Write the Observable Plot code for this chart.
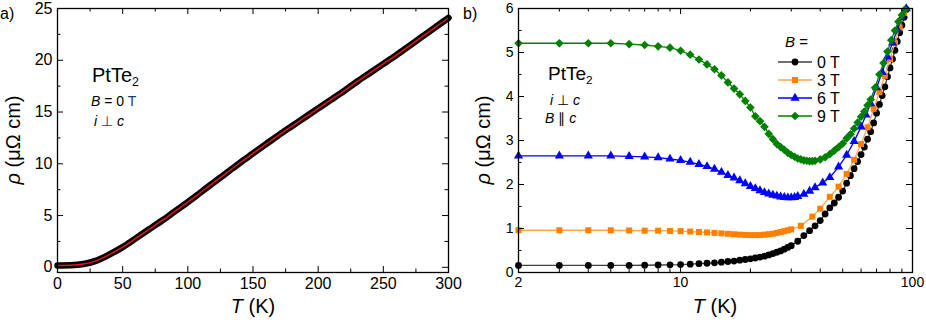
<!DOCTYPE html>
<html><head><meta charset="utf-8">
<script src="https://cdn.jsdelivr.net/npm/d3@7"></script>
<script src="https://cdn.jsdelivr.net/npm/@observablehq/plot@0.6"></script>
<style>
body{margin:0;background:#fff;}
#wrap{position:relative;width:926px;height:324px;overflow:hidden;background:#fff;}
#wrap > svg{position:absolute;top:0;}
</style></head><body><div id="wrap"></div>
<script>
// ---------- Panel a data: rho(T) at B = 0 T ----------
const tA   = [0,10,20,30,40,50,60,70,80,90,100,110,120,130,140,150,160,170,180,190,200,210,220,230,240,250,260,270,280,290,300];
const rhoA = [0.18,0.2,0.32,0.65,1.25,1.95,2.8,3.65,4.5,5.4,6.3,7.25,8.2,9.15,10.1,11.0,11.9,12.8,13.65,14.5,15.35,16.2,17.05,17.95,18.8,19.65,20.5,21.4,22.3,23.2,24.1];
const xTicksA = [0,50,100,150,200,250,300];
const xMinorA = [25,75,125,175,225,275];
const yTicksA = [0,5,10,15,20,25];
const yMinorA = [2.5,7.5,12.5,17.5,22.5];

// ---------- Panel b data ----------
const t0   = [2,3,4,5,6,7,8,9,10,11,12,13,14,15,16,17,18,19,20,21,22,23,24,25,26,27,28,29,30,32,34,36,38,40,42,44,46,48,50,52,54,56,58,60,62,64,66,68,70,72,74,76,78,80,82,84,86,88,90,92,94];
const rho0 = [0.16,0.16,0.16,0.16,0.16,0.165,0.17,0.175,0.18,0.19,0.2,0.21,0.22,0.235,0.25,0.26,0.28,0.295,0.31,0.33,0.35,0.37,0.4,0.43,0.46,0.49,0.53,0.57,0.61,0.71,0.84,0.95,1.06,1.18,1.33,1.47,1.58,1.71,1.85,2.03,2.2,2.36,2.52,2.68,2.85,3.03,3.2,3.4,3.62,3.82,4.02,4.22,4.45,4.65,4.85,5.05,5.25,5.45,5.62,5.8,5.98];
const t3   = [2,3,4,5,6,7,8,9,10,11,12,13,14,15,16,17,18,19,20,21,22,23,24,25,26,27,28,29,30,33,37,40,44,48,52,56,60,64,68,72,76,80,84,88,92];
const rho3 = [0.96,0.96,0.96,0.96,0.955,0.95,0.95,0.945,0.94,0.93,0.92,0.91,0.9,0.89,0.88,0.87,0.86,0.855,0.85,0.85,0.85,0.86,0.87,0.88,0.9,0.92,0.94,0.96,0.98,1.06,1.27,1.45,1.72,1.95,2.24,2.56,2.92,3.3,3.72,4.1,4.47,4.85,5.22,5.57,5.9];
const t6   = [2,3,4,5,6,7,8,9,10,11,12,13,14,15,16,17,18,19,20,21,22,23,24,25,26,27,28,29,30,31,32,34,36,38,41,44,48,52,56,60,63,66,70,74,78,82,86,90,94];
const rho6 = [2.65,2.65,2.65,2.65,2.64,2.63,2.61,2.58,2.55,2.51,2.46,2.41,2.35,2.28,2.21,2.15,2.09,2.02,1.96,1.91,1.86,1.82,1.79,1.76,1.74,1.72,1.71,1.7,1.7,1.71,1.73,1.78,1.85,1.93,2.04,2.16,2.4,2.67,2.98,3.31,3.58,3.84,4.2,4.55,4.9,5.22,5.52,5.8,6.0];
const t9   = [2,3,4,5,6,7,8,9,10,11,12,13,14,15,16,17,18,19,20,21,22,23,24,25,26,27,28,29,30,31,32,33,34,35,36,37,38,40,42,44,46,48,50,52,54,56,58,60,62,64,66,69,72,75,78,81,84,87,90,93];
const rho9 = [5.21,5.21,5.21,5.21,5.19,5.17,5.14,5.11,5.04,4.95,4.84,4.73,4.62,4.48,4.32,4.18,4.05,3.9,3.75,3.55,3.44,3.31,3.15,3.03,2.92,2.85,2.79,2.72,2.67,2.63,2.59,2.57,2.55,2.54,2.53,2.53,2.54,2.57,2.62,2.69,2.77,2.85,2.93,3.05,3.14,3.27,3.41,3.54,3.66,3.8,3.93,4.2,4.5,4.76,5.02,5.28,5.5,5.7,5.85,5.98];
const seriesNames = ["0 T","3 T","6 T","9 T"];
const dotColors   = ["#000000","#ff8000","#0000ff","#008000"];
const lineColors  = ["#404040","#ffa64d","#0000ff","#008000"];
const symbols     = ["circle","square","triangle","diamond2"];
const xTicksB = [2,10,100];
const xMinorB = [3,4,5,6,7,8,9,20,30,40,50,60,70,80,90];
const yTicksB = [0,1,2,3,4,5,6];
const yMinorB = [0.5,1.5,2.5,3.5,4.5,5.5];

const FONT = "'Liberation Sans', Arial, sans-serif";
const H = 324;

function frameTicks(innerW, innerH, xMaj, xMin, yMaj, yMin) {
  const L = 6, l = 3.5, o = {stroke: "#000", strokeWidth: 1};
  return [
    Plot.tickX(xMaj, {x: d => d, insetTop: innerH - L, ...o}),
    Plot.tickX(xMaj, {x: d => d, insetBottom: innerH - L, ...o}),
    Plot.tickX(xMin, {x: d => d, insetTop: innerH - l, ...o}),
    Plot.tickX(xMin, {x: d => d, insetBottom: innerH - l, ...o}),
    Plot.tickY(yMaj, {y: d => d, insetRight: innerW - L, ...o}),
    Plot.tickY(yMaj, {y: d => d, insetLeft: innerW - L, ...o}),
    Plot.tickY(yMin, {y: d => d, insetRight: innerW - l, ...o}),
    Plot.tickY(yMin, {y: d => d, insetLeft: innerW - l, ...o})
  ];
}

// ---------- Panel a ----------
const dataA = tA.map((t, i) => ({T: t, rho: rhoA[i]}));
const WA = 460, mlA = 57, mrA = 12, mt = 8, mb = 52;
const plotA = Plot.plot({
  width: WA, height: H,
  marginLeft: mlA, marginRight: mrA, marginTop: mt, marginBottom: mb,
  x: {domain: [0, 300]},
  y: {domain: [-0.5, 25]},
  style: {fontFamily: FONT, fontSize: "16px", background: "transparent", overflow: "visible", color: "#000"},
  marks: [
    Plot.line(dataA, {x: "T", y: "rho", stroke: "#000", strokeWidth: 6.5, curve: "monotone-x"}),
    Plot.line(dataA, {x: "T", y: "rho", stroke: "#e8131b", strokeWidth: 1.5, curve: "monotone-x"}),
    ...frameTicks(WA - mlA - mrA, H - mt - mb, xTicksA, xMinorA, yTicksA, yMinorA),
    Plot.axisX(xTicksA, {tickSize: 0, tickPadding: 5, label: null, fontSize: 16, fill: "#000"}),
    Plot.axisY(yTicksA, {tickSize: 0, tickPadding: 5, label: null, fontSize: 16, fill: "#000"}),
    Plot.frame({stroke: "#000", strokeWidth: 1.3})
  ]
});
plotA.style.left = "0px";
document.getElementById("wrap").appendChild(plotA);

// ---------- Panel b ----------
const TB = [t0, t3, t6, t9], RB = [rho0, rho3, rho6, rho9];
const WB = 466, mlB = 58, mrB = 14;
const marksB = [];
TB.forEach((T, k) => {
  const d = T.map((t, i) => ({T: t, rho: RB[k][i]}));
  marksB.push(Plot.line(d, {x: "T", y: "rho", stroke: lineColors[k], strokeWidth: 1.3}));
  marksB.push(Plot.dot(d, {x: "T", y: "rho", symbol: symbols[k], r: k === 3 ? 3.9 : 3.4, fill: dotColors[k], stroke: "none"}));
});
const plotB = Plot.plot({
  width: WB, height: H,
  marginLeft: mlB, marginRight: mrB, marginTop: mt, marginBottom: mb,
  x: {type: "log", domain: [2, 100]},
  y: {domain: [0, 6]},
  style: {fontFamily: FONT, fontSize: "14px", background: "transparent", overflow: "visible", color: "#000"},
  marks: [
    ...marksB,
    ...frameTicks(WB - mlB - mrB, H - mt - mb, [10], xMinorB, yTicksB, yMinorB),
    Plot.axisX(xTicksB, {tickSize: 0, tickPadding: 5, label: null, fontSize: 14, tickFormat: d => String(d), fill: "#000"}),
    Plot.axisY(yTicksB, {tickSize: 0, tickPadding: 5, label: null, fontSize: 14, fill: "#000"}),
    Plot.frame({stroke: "#000", strokeWidth: 1.3})
  ]
});
plotB.style.left = "460px";
document.getElementById("wrap").appendChild(plotB);

// ---------- Overlay: labels, annotations, legend ----------
const ov = d3.select("#wrap").append("svg")
  .attr("width", 926).attr("height", H)
  .style("left", "0px").style("pointer-events", "none")
  .style("font-family", FONT);

function txt(x, y, parts, size, opts = {}) {
  const t = ov.append("text").attr("x", x).attr("y", y).attr("font-size", size)
    .attr("text-anchor", opts.anchor || "start").attr("fill", "#000");
  if (opts.transform) t.attr("transform", opts.transform);
  parts.forEach(p => {
    const s = t.append("tspan").text(p.t);
    if (p.i) s.attr("font-style", "italic");
    if (p.fill) s.attr("fill", p.fill);
    if (p.sub) s.attr("baseline-shift", "-30%").attr("font-size", size * 0.62);
  });
  return t;
}

// panel letters
txt(0, 19, [{t: "a)"}], 16);
txt(463, 19, [{t: "b)"}], 16);

// axis titles
txt(253, 313, [{t: "T", i: true}, {t: " (K)"}], 20, {anchor: "middle"});
txt(715, 313, [{t: "T", i: true}, {t: " (K)"}], 20, {anchor: "middle"});
txt(0, 0, [{t: "ρ", i: true}, {t: " (μΩ cm)"}], 20, {anchor: "middle", transform: "translate(20,140) rotate(-90)"});
txt(0, 0, [{t: "ρ", i: true}, {t: " (μΩ cm)"}], 20, {anchor: "middle", transform: "translate(490,140) rotate(-90)"});

// panel a annotations
txt(92, 82, [{t: "PtTe"}, {t: "2", sub: true}], 20);
txt(91, 106, [{t: "B", i: true}, {t: " = 0 "}, {t: "T", fill: "#1b3a6b"}], 14);
txt(94, 126, [{t: "i", i: true}, {t: " "}, {t: "⊥", fill: "#1b3a6b"}, {t: " "}, {t: "c", i: true}], 14);

// panel b annotations
txt(548, 80, [{t: "PtTe"}, {t: "2", sub: true}], 19);
txt(550, 105, [{t: "i", i: true}, {t: " ⊥ "}, {t: "c", i: true}], 14);
txt(545, 123, [{t: "B", i: true}, {t: " ∥ "}, {t: "c", i: true}], 14);

// legend
txt(785, 47, [{t: "B", i: true}, {t: " ="}], 15);
const legY = [62, 80, 98, 116];
const symMap = {circle: d3.symbolCircle, square: d3.symbolSquare, triangle: d3.symbolTriangle, diamond2: d3.symbolDiamond2};
seriesNames.forEach((name, k) => {
  const y = legY[k];
  ov.append("line").attr("x1", 778).attr("x2", 812).attr("y1", y).attr("y2", y)
    .attr("stroke", lineColors[k]).attr("stroke-width", 1.4);
  const r = k === 3 ? 3.9 : 3.4;
  ov.append("path").attr("d", d3.symbol(symMap[symbols[k]], Math.PI * r * r)())
    .attr("transform", `translate(795,${y})`).attr("fill", dotColors[k]);
  txt(817, y + 6, [{t: name}], 16);
});
</script></body></html>
